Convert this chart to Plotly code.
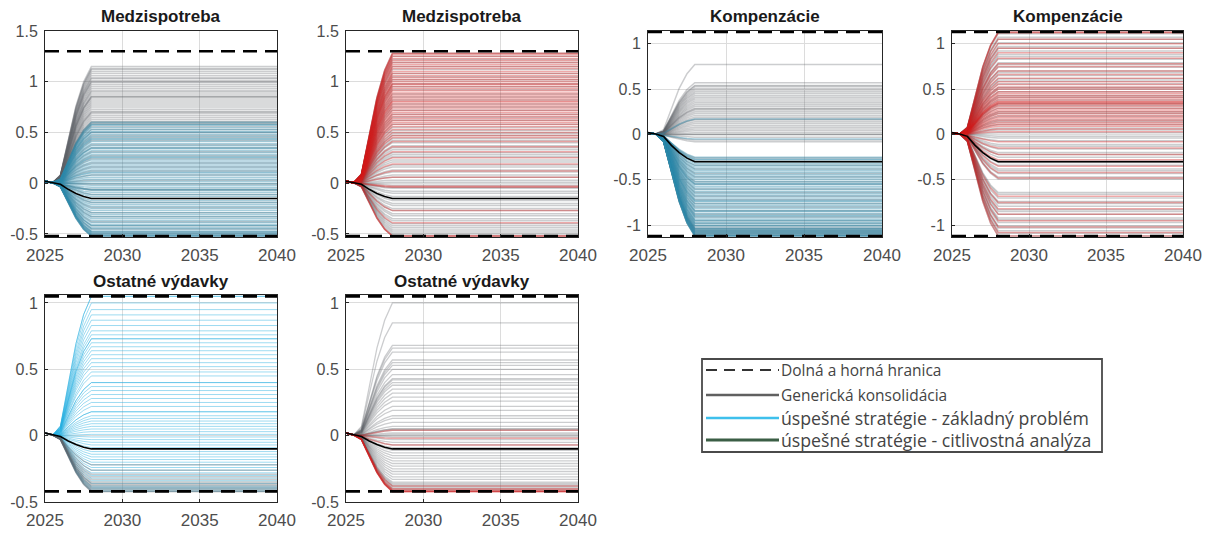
import plotly.graph_objects as go

# The page places the figure 8px from the top-left corner of a 1210x534 window.
OFF = 8
W, H = 1210 - OFF, 534 - OFF

# ---------------- data ----------------
YEARS = [2025, 2025.5, 2026, 2026.5, 2027, 2027.5, 2028, 2040]
RAMP = [0.0, 0.0, 0.07, 0.38, 0.66, 0.87, 1.0, 1.0]
START = [0.02, 0.005, 0.0, 0.0, 0.0, 0.0, 0.0, 0.0]
GENERIC_RAMP = [0.0, 0.0, 0.07, 0.40, 0.67, 0.87, 1.0, 1.0]

TITLES = ["Medzispotreba", "Medzispotreba", "Kompenzácie", "Kompenzácie",
          "Ostatné výdavky", "Ostatné výdavky"]
LOWER = [-0.52, -0.52, -1.12, -1.12, -0.42, -0.42]
UPPER = [1.30, 1.30, 1.13, 1.13, 1.05, 1.05]
GENERIC = [-0.15, -0.15, -0.30, -0.30, -0.10, -0.10]
Y_RANGES = [[-0.53, 1.5], [-0.53, 1.5], [-1.13, 1.14], [-1.13, 1.14], [-0.5, 1.06], [-0.5, 1.06]]
Y_TICKS = [[-0.5, 0, 0.5, 1, 1.5], [-0.5, 0, 0.5, 1, 1.5], [-1, -0.5, 0, 0.5, 1],
           [-1, -0.5, 0, 0.5, 1], [-0.5, 0, 0.5, 1], [-0.5, 0, 0.5, 1]]
Y_TICKTEXT = [["-0.5", "0", "0.5", "1", "1.5"], ["-0.5", "0", "0.5", "1", "1.5"],
              ["-1", "-0.5", "0", "0.5", "1"], ["-1", "-0.5", "0", "0.5", "1"],
              ["-0.5", "0", "0.5", "1"], ["-0.5", "0", "0.5", "1"]]
X_TICKS = [2025, 2030, 2035, 2040]

P1_GRAY = [1.15, 1.13, 1.12, 1.10, 1.08, 1.06, 1.04, 1.03, 1.01, 1.00, 0.99, 0.97, 0.95, 0.93,
           0.91, 0.90, 0.88, 0.86, 0.85, 0.85, 0.83, 0.81, 0.79, 0.77, 0.75, 0.73, 0.71, 0.70,
           0.69, 0.67, 0.65, 0.63, 0.61, 0.60, 0.59, 0.58, 0.56, 0.53, 0.50, 0.47, 0.45, 0.42,
           0.38, 0.35, 0.31, 0.27, 0.24, 0.20, 0.16, 0.12, 0.08, 0.03, -0.01, -0.06, -0.07,
           -0.11, -0.19, -0.24, -0.29, -0.33, -0.38, -0.42, -0.45, -0.48, -0.50, -0.52]
P1_BLUE = [0.60, 0.58, 0.57, 0.55, 0.53, 0.51, 0.50, 0.48, 0.46, 0.44, 0.43, 0.41, 0.39, 0.37,
           0.35, 0.34, 0.32, 0.30, 0.28, 0.26, 0.25, 0.23, 0.21, 0.19, 0.17, 0.15, 0.13, 0.11,
           0.10, 0.08, 0.06, 0.04, 0.02, 0.00, -0.02, -0.04, -0.06, -0.07, -0.09, -0.11, -0.13,
           -0.17, -0.19, -0.21, -0.23, -0.25, -0.27, -0.29, -0.31, -0.33, -0.35, -0.37, -0.39,
           -0.41, -0.42, -0.44, -0.45, -0.47, -0.48, -0.49, -0.50, -0.51, -0.52, -0.52]
P2_GRAY = [1.28, 1.25, 1.22, 1.19, 1.15, 1.12, 1.08, 1.05, 1.02, 0.98, 0.95, 0.92, 0.88, 0.85,
           0.82, 0.78, 0.75, 0.72, 0.68, 0.65, 0.62, 0.58, 0.55, 0.52, 0.49, 0.47, 0.44, 0.42,
           0.40, 0.37, 0.35, 0.33, 0.30, 0.28, 0.26, 0.23, 0.21, 0.18, 0.16, 0.13, 0.11, 0.08,
           0.06, 0.03, 0.01, -0.02, -0.04, -0.05, -0.08, -0.10, -0.13, -0.17, -0.20, -0.22,
           -0.25, -0.27, -0.30, -0.32, -0.35, -0.37, -0.40, -0.42, -0.44, -0.46, -0.48, -0.50, -0.52]
P2_RED = [1.28, 1.27, 1.25, 1.23, 1.21, 1.19, 1.17, 1.15, 1.13, 1.10, 1.08, 1.06, 1.04, 1.02,
          1.00, 0.98, 0.97, 0.95, 0.93, 0.91, 0.89, 0.87, 0.85, 0.83, 0.81, 0.80, 0.78, 0.76,
          0.74, 0.72, 0.70, 0.68, 0.66, 0.64, 0.62, 0.60, 0.58, 0.56, 0.53, 0.50, 0.47, 0.45,
          0.41, 0.36, 0.31, 0.25, 0.19, 0.12, 0.06, -0.03, -0.04, -0.27, -0.39, -0.52, -0.52]
P3_GRAY = [0.77, 0.57, 0.54, 0.53, 0.51, 0.49, 0.47, 0.45, 0.43, 0.41, 0.39, 0.37, 0.35, 0.33,
           0.31, 0.29, 0.28, 0.27, 0.25, 0.23, 0.21, 0.19, 0.17, 0.16, 0.14, 0.12, 0.10, 0.08,
           0.06, 0.04, 0.02, 0.00, 0.00, -0.03, -0.06, -0.08, -0.26, -0.29, -0.34, -0.38, -0.43,
           -0.47, -0.52, -0.55, -0.60, -0.64, -0.68, -0.72, -0.76, -0.80, -0.84, -0.88, -0.91,
           -0.95, -0.98, -1.01, -1.03, -1.04, -1.05, -1.06, -1.07, -1.08, -1.09, -1.10, -1.11,
           -1.12]
P3_BLUE = [0.17, -0.05, -0.25, -0.27, -0.28, -0.30, -0.32, -0.34, -0.36, -0.38, -0.40, -0.42,
           -0.44, -0.46, -0.48, -0.50, -0.52, -0.54, -0.55, -0.57, -0.59, -0.61, -0.63, -0.65,
           -0.67, -0.69, -0.71, -0.73, -0.74, -0.76, -0.78, -0.80, -0.82, -0.84, -0.85, -0.87,
           -0.89, -0.90, -0.92, -0.94, -0.95, -0.97, -0.98, -1.00, -1.01, -1.03, -1.04, -1.05,
           -1.06, -1.07, -1.08, -1.09, -1.10, -1.11, -1.12, -1.12]
P4_GRAY = [1.13, 1.11, 1.07, 1.05, 1.01, 0.97, 0.95, 0.92, 0.88, 0.86, 0.83, 0.79, 0.77, 0.74,
           0.70, 0.68, 0.65, 0.61, 0.59, 0.56, 0.52, 0.50, 0.47, 0.43, 0.41, 0.38, 0.34, 0.32,
           0.29, 0.25, 0.23, 0.20, 0.16, 0.14, 0.11, 0.07, 0.05, 0.02, -0.02, -0.04, -0.07,
           -0.11, -0.13, -0.16, -0.20, -0.22, -0.25, -0.29, -0.31, -0.34, -0.38, -0.40, -0.43,
           -0.47, -0.49, -0.64, -0.66, -0.70, -0.74, -0.76, -0.79, -0.83, -0.85, -0.88, -0.92,
           -0.94, -0.97, -1.01, -1.03, -1.06, -1.09, -1.12]
P4_RED = [1.13, 1.12, 1.05, 1.00, 0.95, 0.90, 0.84, 0.78, 0.75, 0.70, 0.66, 0.62, 0.58, 0.55,
          0.52, 0.50, 0.47, 0.45, 0.43, 0.41, 0.39, 0.37, 0.36, 0.35, 0.34, 0.33, 0.31, 0.29,
          0.27, 0.25, 0.23, 0.21, 0.19, 0.17, 0.15, 0.13, 0.11, 0.09, 0.06, 0.03, -0.08, -0.15,
          -0.22, -0.28, -0.35, -0.42, -0.48, -0.68, -0.75, -0.82, -0.88, -0.95, -1.02, -1.08, -1.12]
P5_BLUE = [1.05, 1.05, 1.00, 0.95, 0.91, 0.87, 0.83, 0.79, 0.76, 0.73, 0.73, 0.70, 0.67, 0.64,
           0.61, 0.58, 0.55, 0.52, 0.48, 0.45, 0.40, 0.40, 0.37, 0.34, 0.31, 0.28, 0.25, 0.22,
           0.18, 0.18, 0.15, 0.13, 0.11, 0.09, 0.07, 0.05, 0.03, 0.01, -0.01, -0.03, -0.05,
           -0.07, -0.09, -0.12, -0.14, -0.16, -0.18, -0.20, -0.22, -0.24, -0.26, -0.28, -0.30,
           -0.32, -0.34, -0.36, -0.38, -0.39, -0.40, -0.41, -0.42]
P5_GRAY = [-0.22, -0.26, -0.29, -0.31, -0.33, -0.35, -0.36, -0.37, -0.38, -0.39, -0.40, -0.41,
           -0.42, -0.42]
P6_GRAY = [1.00, 0.85, 0.68, 0.66, 0.63, 0.57, 0.55, 0.53, 0.50, 0.46, 0.43, 0.42, 0.40, 0.38,
           0.35, 0.32, 0.29, 0.26, 0.22, 0.19, 0.15, 0.13, 0.10, 0.07, 0.05, 0.05, 0.04, 0.02,
           0.01, 0.00, -0.01, -0.03, -0.05, -0.07, -0.09, -0.11, -0.13, -0.15, -0.17, -0.19,
           -0.21, -0.23, -0.25, -0.27, -0.29, -0.31, -0.33, -0.35, -0.36, -0.37, -0.38, -0.39,
           -0.40, -0.41, -0.42]
P6_RED = [0.04, -0.02, -0.07, -0.38, -0.40, -0.41, -0.42, -0.42, -0.42]

LEGEND_LABELS = ["Dolná a horná hranica", "Generická konsolidácia",
                 "úspešné stratégie - základný problém", "úspešné stratégie - citlivostná analýza"]

# ---------------- styles ----------------
GRAY = "rgba(95,100,105,0.32)"
TEAL = "rgba(45,138,172,0.42)"
RED = "rgba(210,30,30,0.38)"
CYAN = "rgba(40,175,225,0.45)"

PANELS = [
    [(P1_GRAY, GRAY, 1.5), (P1_BLUE, TEAL, 1.5)],
    [(P2_GRAY, GRAY, 1.5), (P2_RED, RED, 1.5)],
    [(P3_GRAY, GRAY, 1.5), (P3_BLUE, TEAL, 1.5)],
    [(P4_GRAY, GRAY, 1.5), (P4_RED, RED, 1.5)],
    [(P5_BLUE, CYAN, 1.0), (P5_GRAY, GRAY, 1.5)],
    [(P6_GRAY, GRAY, 1.3), (P6_RED, RED, 1.5)],
]

# panel boxes in window pixels
X_PX = [(45, 277), (346, 578), (648, 882), (952, 1183), (45, 277), (346, 578)]
Y_PX = [(31, 237), (31, 237), (31, 237), (31, 237), (295, 502), (295, 502)]


def fx(x):
    return (x - OFF) / W


def fy(y):
    return 1 - (y - OFF) / H


fig = go.Figure()

XTICKFONT = dict(family="Liberation Sans", size=17, color="#4d4d4d")
YTICKFONT = dict(family="Liberation Sans", size=16, color="#4d4d4d")

for i in range(6):
    n = i + 1
    xa = "x" if n == 1 else f"x{n}"
    ya = "y" if n == 1 else f"y{n}"
    for finals, color, lw in PANELS[i]:
        for v in finals:
            ys = [s + r * v for s, r in zip(START, RAMP)]
            fig.add_trace(go.Scatter(x=YEARS, y=ys, mode="lines", xaxis=xa, yaxis=ya,
                                     line=dict(color=color, width=lw), showlegend=False,
                                     hoverinfo="skip"))
    # generic consolidation
    gy = [s + r * GENERIC[i] for s, r in zip(START, GENERIC_RAMP)]
    fig.add_trace(go.Scatter(x=YEARS, y=gy, mode="lines", xaxis=xa, yaxis=ya,
                             line=dict(color="black", width=1.6), showlegend=False))
    # bounds
    for b in (LOWER[i], UPPER[i]):
        fig.add_trace(go.Scatter(x=[YEARS[0], YEARS[-1]], y=[b, b], mode="lines",
                                 xaxis=xa, yaxis=ya,
                                 line=dict(color="black", width=2.6, dash="14px,8px"),
                                 showlegend=False))

    x0, x1 = X_PX[i]
    y0, y1 = Y_PX[i]
    xk = "xaxis" if n == 1 else f"xaxis{n}"
    yk = "yaxis" if n == 1 else f"yaxis{n}"
    fig.layout[xk] = dict(domain=[fx(x0), fx(x1)], anchor=ya, range=[2025, 2040],
                          tickvals=X_TICKS, ticktext=[str(t) for t in X_TICKS],
                          showgrid=True, gridcolor="#dcdcdc", gridwidth=1,
                          showline=True, mirror=True, linecolor="#262626", linewidth=1,
                          ticks="inside", ticklen=3, tickcolor="#262626",
                          tickfont=XTICKFONT, zeroline=False, fixedrange=True,
                          automargin=False, ticklabelstandoff=3)
    fig.layout[yk] = dict(domain=[fy(y1), fy(y0)], anchor=xa, range=Y_RANGES[i],
                          tickvals=Y_TICKS[i], ticktext=Y_TICKTEXT[i],
                          showgrid=True, gridcolor="#dcdcdc", gridwidth=1,
                          showline=True, mirror=True, linecolor="#262626", linewidth=1,
                          ticks="inside", ticklen=3, tickcolor="#262626",
                          tickfont=YTICKFONT, zeroline=False, fixedrange=True,
                          automargin=False, ticklabelstandoff=3)
    fig.add_annotation(text=f"<b>{TITLES[i]}</b>", xref="paper", yref="paper",
                       x=fx((x0 + x1) / 2), y=fy(y0 - 14), xanchor="center",
                       yanchor="middle", showarrow=False,
                       font=dict(family="Liberation Sans", size=17, color="#1a1a1a"))

# ---------------- manual legend ----------------
shapes = [dict(type="rect", xref="paper", yref="paper", x0=fx(702), x1=fx(1102),
               y0=fy(452), y1=fy(359),
               line=dict(color="#4a4a4a", width=1.8), fillcolor="white", layer="above")]
rows_y = [370, 395, 418, 440]
sym = [dict(color="#333333", width=2, dash="11px,7px"),
       dict(color="#606060", width=2.5),
       dict(color="#3ec0ec", width=2.5),
       dict(color="#3b5e45", width=3)]
fsize = [15.5, 15.5, 17.7, 17.7]
for yy, st, lab, fs in zip(rows_y, sym, LEGEND_LABELS, fsize):
    shapes.append(dict(type="line", xref="paper", yref="paper", x0=fx(706), x1=fx(779),
                       y0=fy(yy), y1=fy(yy), line=st, layer="above"))
    fig.add_annotation(text=lab, xref="paper", yref="paper", x=fx(779), y=fy(yy),
                       xanchor="left", yanchor="middle", showarrow=False,
                       font=dict(family="Open Sans", size=fs, color="#444444"))

fig.update_layout(width=W, height=H,
                  margin=dict(l=0, r=0, t=0, b=0, pad=0, autoexpand=False),
                  paper_bgcolor="white", plot_bgcolor="white", shapes=shapes,
                  showlegend=False)

fig.write_html("out.html")
